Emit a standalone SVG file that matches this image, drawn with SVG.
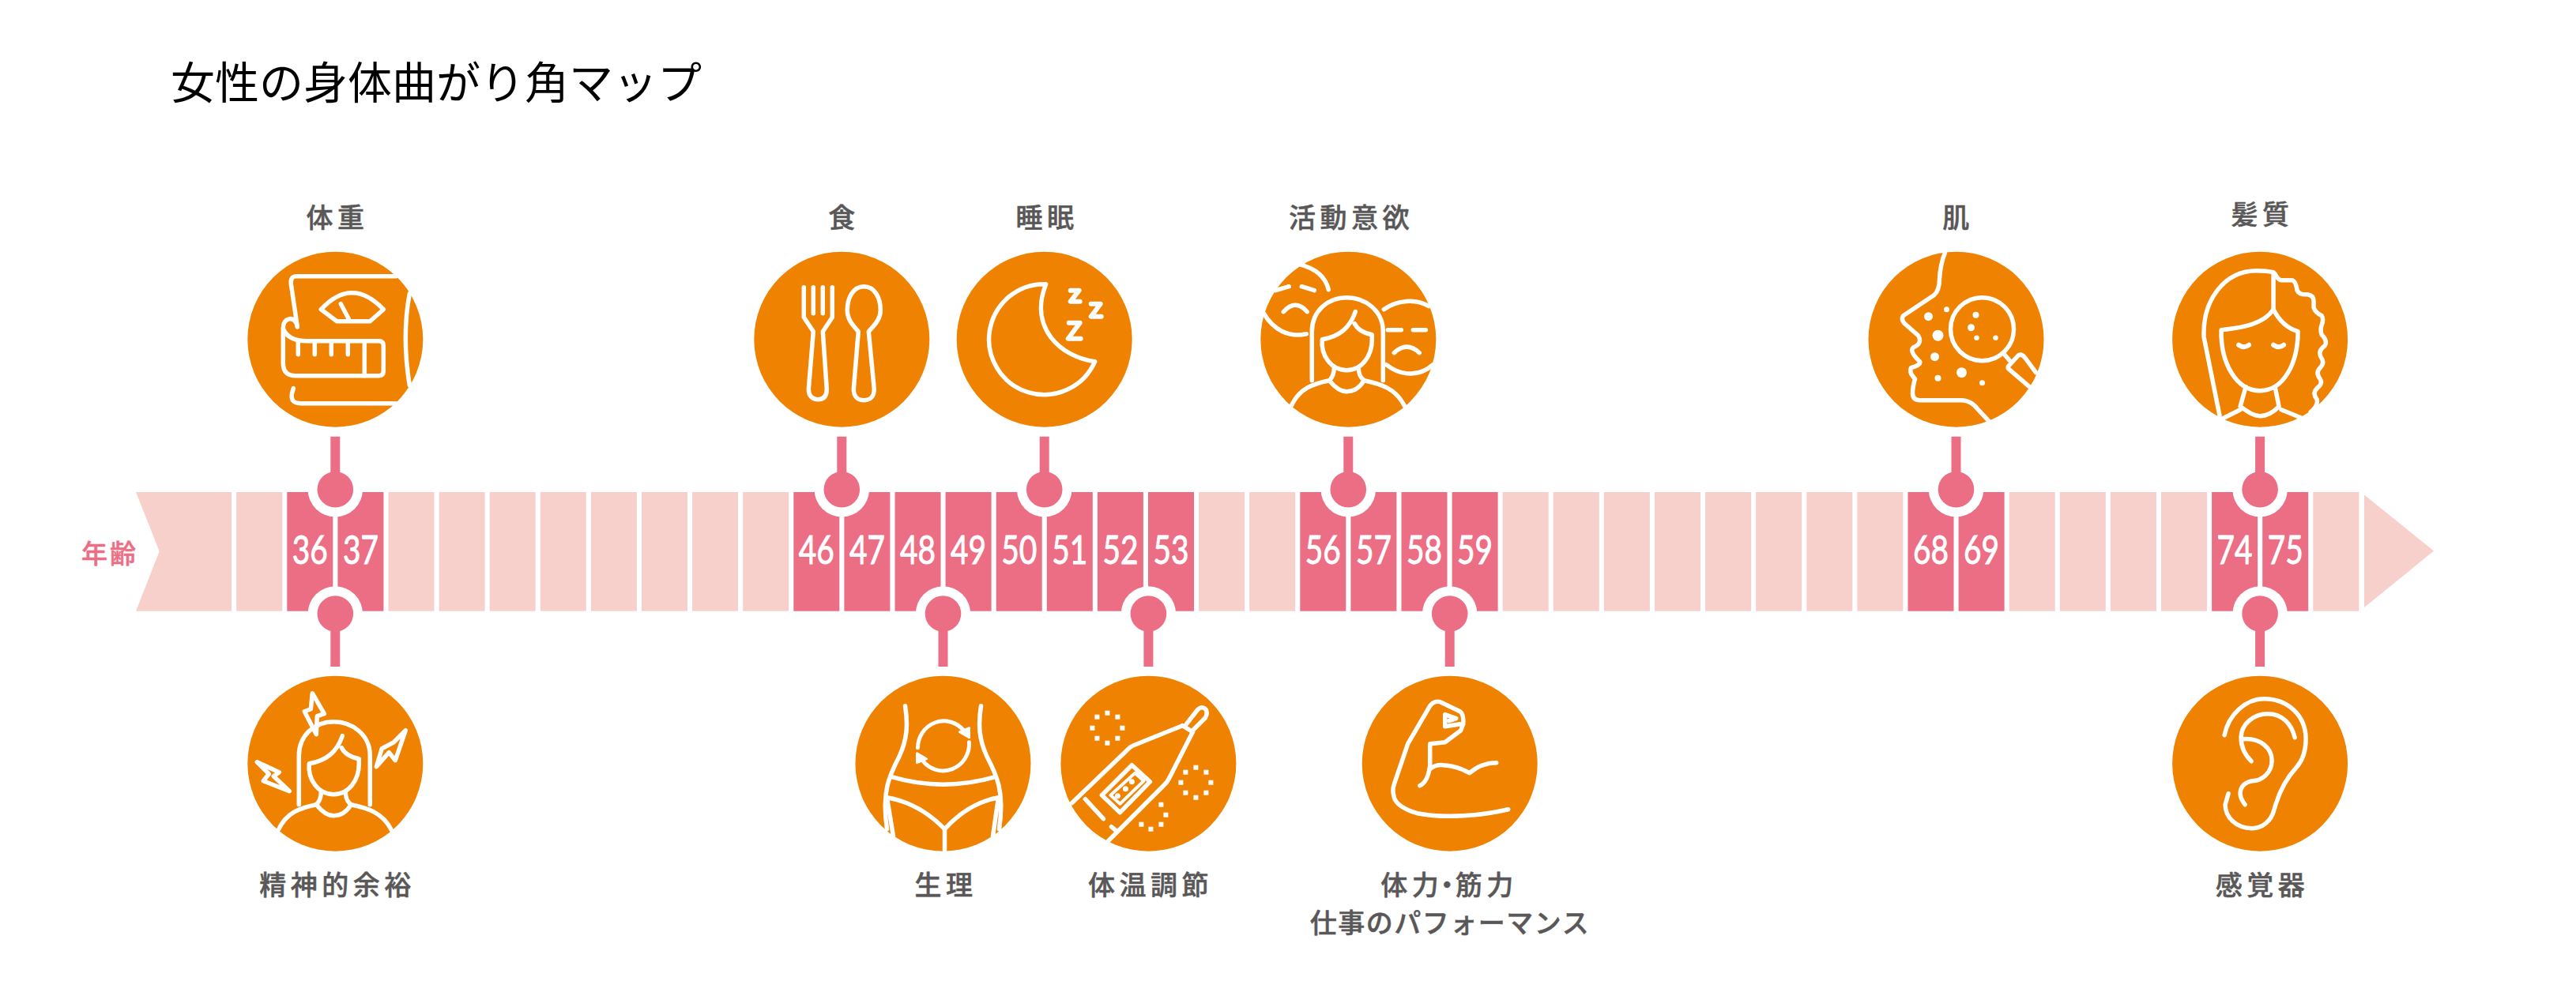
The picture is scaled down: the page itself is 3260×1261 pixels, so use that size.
<svg xmlns="http://www.w3.org/2000/svg" width="3260" height="1261" viewBox="0 0 3260 1261">
<style>
.l{fill:#f7d0cc}.p{fill:#ec6e85}.o{fill:#ef8200}
.i{fill:none;stroke:#fff;stroke-width:5.5;stroke-linecap:round;stroke-linejoin:round}
.w{fill:#fff}
.n{font-family:"Lato","Noto Sans",sans-serif;font-size:50px;fill:#fff;stroke:#fff;stroke-width:1;text-anchor:middle}
.t{font-family:"Noto Sans CJK JP",sans-serif;font-size:34px;font-weight:500;fill:#595757;stroke:#595757;stroke-width:.5;text-anchor:middle;letter-spacing:5.5px}
.s{stroke:#ec6e85;stroke-width:12;fill:none}
</style>
<rect width="3260" height="1261" fill="#fff"/>
<text id="title" x="216" y="125" font-family="'Noto Sans CJK JP',sans-serif" font-size="56" fill="#000">女性の身体曲がり角マップ</text>
<g id="axis">
<text x="139" y="713" font-family="'Noto Sans CJK JP',sans-serif" font-size="33" font-weight="500" fill="#ec6e85" stroke="#ec6e85" stroke-width=".5" text-anchor="middle" letter-spacing="3">年齢</text>
<polygon class="l" points="172,623 293,623 293,773.7 172,773.7 201.7,698"/>
<polygon class="l" points="2992,626.6 3080,697.5 2992,769"/>
<g class="l">
<rect x="299.2" y="623" width="58" height="150.7"/><rect x="491.5" y="623" width="58" height="150.7"/><rect x="555.6" y="623" width="58" height="150.7"/><rect x="619.7" y="623" width="58" height="150.7"/><rect x="683.8" y="623" width="58" height="150.7"/><rect x="747.9" y="623" width="58" height="150.7"/><rect x="812" y="623" width="58" height="150.7"/><rect x="876.1" y="623" width="58" height="150.7"/><rect x="940.2" y="623" width="58" height="150.7"/><rect x="1517.1" y="623" width="58" height="150.7"/><rect x="1581.2" y="623" width="58" height="150.7"/><rect x="1901.7" y="623" width="58" height="150.7"/><rect x="1965.8" y="623" width="58" height="150.7"/><rect x="2029.9" y="623" width="58" height="150.7"/><rect x="2094" y="623" width="58" height="150.7"/><rect x="2158.1" y="623" width="58" height="150.7"/><rect x="2222.2" y="623" width="58" height="150.7"/><rect x="2286.3" y="623" width="58" height="150.7"/><rect x="2350.4" y="623" width="58" height="150.7"/><rect x="2542.7" y="623" width="58" height="150.7"/><rect x="2606.8" y="623" width="58" height="150.7"/><rect x="2670.9" y="623" width="58" height="150.7"/><rect x="2735" y="623" width="58" height="150.7"/><rect x="2927.3" y="623" width="58" height="150.7"/>
</g>
<g class="p">
<rect x="363.3" y="623" width="58" height="150.7"/><rect x="427.4" y="623" width="58" height="150.7"/><rect x="1004.3" y="623" width="58" height="150.7"/><rect x="1068.4" y="623" width="58" height="150.7"/><rect x="1132.5" y="623" width="58" height="150.7"/><rect x="1196.6" y="623" width="58" height="150.7"/><rect x="1260.7" y="623" width="58" height="150.7"/><rect x="1324.8" y="623" width="58" height="150.7"/><rect x="1388.9" y="623" width="58" height="150.7"/><rect x="1453" y="623" width="58" height="150.7"/><rect x="1645.3" y="623" width="58" height="150.7"/><rect x="1709.4" y="623" width="58" height="150.7"/><rect x="1773.5" y="623" width="58" height="150.7"/><rect x="1837.6" y="623" width="58" height="150.7"/><rect x="2414.5" y="623" width="58" height="150.7"/><rect x="2478.6" y="623" width="58" height="150.7"/><rect x="2799.1" y="623" width="58" height="150.7"/><rect x="2863.2" y="623" width="58" height="150.7"/>
</g>
<g>
<text class="n" x="392.3" y="714" textLength="45" lengthAdjust="spacingAndGlyphs">36</text><text class="n" x="456.4" y="714" textLength="45" lengthAdjust="spacingAndGlyphs">37</text>
<text class="n" x="1033.3" y="714" textLength="45" lengthAdjust="spacingAndGlyphs">46</text><text class="n" x="1097.4" y="714" textLength="45" lengthAdjust="spacingAndGlyphs">47</text>
<text class="n" x="1161.5" y="714" textLength="45" lengthAdjust="spacingAndGlyphs">48</text><text class="n" x="1225.6" y="714" textLength="45" lengthAdjust="spacingAndGlyphs">49</text>
<text class="n" x="1289.7" y="714" textLength="45" lengthAdjust="spacingAndGlyphs">50</text><text class="n" x="1353.8" y="714" textLength="45" lengthAdjust="spacingAndGlyphs">51</text>
<text class="n" x="1417.9" y="714" textLength="45" lengthAdjust="spacingAndGlyphs">52</text><text class="n" x="1482" y="714" textLength="45" lengthAdjust="spacingAndGlyphs">53</text>
<text class="n" x="1674.3" y="714" textLength="45" lengthAdjust="spacingAndGlyphs">56</text><text class="n" x="1738.4" y="714" textLength="45" lengthAdjust="spacingAndGlyphs">57</text>
<text class="n" x="1802.5" y="714" textLength="45" lengthAdjust="spacingAndGlyphs">58</text><text class="n" x="1866.6" y="714" textLength="45" lengthAdjust="spacingAndGlyphs">59</text>
<text class="n" x="2443.5" y="714" textLength="45" lengthAdjust="spacingAndGlyphs">68</text><text class="n" x="2507.6" y="714" textLength="45" lengthAdjust="spacingAndGlyphs">69</text>
<text class="n" x="2828.1" y="714" textLength="45" lengthAdjust="spacingAndGlyphs">74</text><text class="n" x="2892.2" y="714" textLength="45" lengthAdjust="spacingAndGlyphs">75</text>
</g>
</g>
<defs>
<g id="c-top"><circle class="w" cx="0" cy="619.7" r="34.7"/><path class="s" d="M0,552.7V620"/><circle class="p" cx="0" cy="619.7" r="22.8"/></g>
<g id="c-bot"><circle class="w" cx="0" cy="777" r="34.7"/><path class="s" d="M0,844V777"/><circle class="p" cx="0" cy="777" r="22.8"/></g>
<g id="person">
<path d="M-46,52V-10C-46,-36 -26,-53 -2,-53C22,-53 44,-36 44,-10V52"/>
<path d="M9,-35C2,-14 -12,-3 -33,0C-35,20 -22,39 -2,39C18,39 30,20 30,0V-6C20,-8 12,-12 8,-20"/>
<path d="M-18,36C-18,44 -20,48 -24,52C-16,62 -8,66 -2,66C6,66 14,62 20,52C15,48 13,44 13,36"/>
<path d="M-72,84C-62,62 -44,56 -24,52M20,52C40,56 60,62 71,84"/>
</g>
</defs>
<g id="connectors">
<use href="#c-top" x="424.3"/><use href="#c-bot" x="424.3"/>
<use href="#c-top" x="1065.3"/><use href="#c-bot" x="1193.5"/>
<use href="#c-top" x="1321.7"/><use href="#c-bot" x="1453.4"/>
<use href="#c-top" x="1706.3"/><use href="#c-bot" x="1834.7"/>
<use href="#c-top" x="2475.5"/>
<use href="#c-top" x="2860.1"/><use href="#c-bot" x="2860.1"/>
</g>

<g id="node-weight">
<text class="t" x="427" y="288">体重</text>
<circle class="o" cx="424.3" cy="429.7" r="111"/>
<g class="i" transform="translate(424.3,429.7)">
<path d="M77,-80H-49Q-57,-80 -56,-70L-48,-16"/>
<path d="M-48,-16Q-50,-27 -58,-26Q-66,-24 -66,-14V30Q-66,46 -50,46H55Q61,46 61,40V8Q61,2 55,2H-36Q-60,2 -66,-14"/>
<path d="M-47,2V19M-26,2V19M-5,2V19M16,2V19M37,2V46"/>
<path d="M-53,62Q-60,81 -44,81H77"/>
<path d="M94,-58Q84,-4 94,58"/>
<path d="M-18,-38Q21,-80 61,-38L44,-23H2Z"/>
<path d="M7,-45L17,-26"/>
</g></g>

<g id="node-mental">
<text class="t" x="427" y="1133">精神的余裕</text>
<circle class="o" cx="424.3" cy="966.7" r="111"/>
<g class="i" transform="translate(424.3,966.7)">
<use href="#person"/>
<path d="M-29,-89L-14,-63L-23,-60L-24,-37L-39,-66L-31,-69Z"/>
<path d="M-99,-2L-71,11L-78,16L-58,35L-91,22L-84,13Z"/>
<path d="M89,-42L76,-4L68,-14L52,4L59,-19L74,-27Z"/>
</g></g>

<g id="node-food">
<text class="t" x="1068" y="288">食</text>
<circle class="o" cx="1065.3" cy="429.7" r="111"/>
<g class="i" transform="translate(1065.3,429.7)">
<path d="M-48,-66V-28L-36,-10L-42,63C-42,72 -37,76 -30,76C-23,76 -19,72 -19,63L-24,-10L-12,-28V-66"/>
<path d="M-36,-66V-33M-24,-66V-33"/>
<path d="M28,-67C14,-67 7,-52 7,-37C7,-25 14,-18 21,-10L15,63C15,72 20,77 28,77C36,77 41,72 41,63L34,-10C41,-18 49,-25 49,-37C49,-52 42,-67 28,-67Z"/>
</g></g>

<g id="node-sleep">
<text class="t" x="1325" y="288">睡眠</text>
<circle class="o" cx="1321.7" cy="429.7" r="111"/>
<g class="i" transform="translate(1321.7,429.7)">
<path d="M2,-70A70,70 0 1 0 64,28C20,22 -20,-15 2,-70Z"/>
<path d="M33,-62H44L33,-48H45M59,-45H71L59,-29H72M31,-21H45L30,-1H46" stroke-width="6"/>
</g></g>

<g id="node-activity">
<text class="t" x="1710" y="288">活動意欲</text>
<circle class="o" cx="1706.3" cy="429.7" r="111"/>
<g class="i" transform="translate(1706.3,429.7)">
<use href="#person"/>
<path d="M-62,-95C-42,-90 -29,-80 -25,-63M-107,-33C-95,-12 -75,-2 -53,-7"/>
<path d="M-92,-62L-75,-67M-59,-67L-43,-62M-82,-35Q-67,-52 -52,-35"/>
<path d="M45,-38C62,-50 85,-52 102,-42M48,32C68,48 92,46 107,32"/>
<path d="M50,-12H67M82,-12H98M58,17Q74,2 90,17"/>
</g></g>

<g id="node-skin">
<text class="t" x="2478" y="288">肌</text>
<circle class="o" cx="2475.5" cy="429.7" r="111"/>
<g class="i" transform="translate(2475.5,429.7)">
<path d="M-14,-110Q-20,-95 -21,-77Q-21,-62 -28,-56L-67,-30Q-70,-25 -65,-20L-48,-5Q-42,5 -54,10Q-60,15 -46,28Q-44,32 -57,36Q-60,42 -52,50Q-55,60 -55,68Q-55,77 -46,77H8Q20,78 27,88L41,103"/>
<circle cx="33" cy="-13" r="40"/>
<path d="M62,20L68,27M68,32L79,20Q83,18 87,23L101,42M66,37Q65,34 68,32M66,37L95,62"/>
<g class="w" stroke="none">
<circle cx="-35" cy="-29" r="5.5"/><circle cx="-12" cy="-38" r="3.5"/><circle cx="-23" cy="-5" r="7"/><circle cx="-27" cy="22" r="5.5"/><circle cx="7" cy="42" r="6.5"/><circle cx="-23" cy="49" r="4"/><circle cx="33" cy="55" r="3.5"/><circle cx="25" cy="-31" r="4"/><circle cx="19" cy="-15" r="4.5"/><circle cx="26" cy="-2" r="3.2"/><circle cx="50" cy="-2" r="3.2"/>
</g>
</g></g>

<g id="node-hair">
<text class="t" x="2863" y="284">髪質</text>
<circle class="o" cx="2860.1" cy="429.7" r="111"/>
<g class="i" transform="translate(2860.1,429.7)">
<path d="M-51,97L-71,-3C-73,-50 -45,-87 -4,-87Q8,-87 17,-85V-38"/>
<path d="M17,-38C5,-20 -20,-15 -49,-12C-50,30 -30,65 0,65C30,65 48,30 48,-10C32,-15 22,-28 17,-38Z"/>
<path d="M-18,60L-25,85C-15,92 -8,97 0,97C8,97 17,92 24,85L19,60"/>
<path d="M-47,100L-25,89M27,89L54,100"/>
<path d="M19,-83Q23,-75 27,-75H40Q45,-75 47,-62Q50,-56 60,-57Q68,-56 68,-48V-40Q70,-34 78,-30Q81,-26 78,-18Q76,-12 78,-6Q86,2 82,8Q72,15 78,24Q82,30 76,36Q70,42 76,50Q80,56 72,62Q66,68 72,76Q74,84 64,92"/>
<path d="M-27,7Q-20,12 -14,7M17,7Q24,12 30,7" stroke-width="6"/>
</g></g>

<g id="node-period">
<text class="t" x="1197" y="1133">生理</text>
<circle class="o" cx="1193.5" cy="966.7" r="111"/>
<g class="i" transform="translate(1193.5,966.7)">
<path d="M-48,-73C-44,-48 -46,-30 -55,-10C-68,15 -78,35 -71,83"/>
<path d="M48,-73C44,-48 46,-30 55,-10C68,15 78,35 71,83"/>
<path d="M-65,17Q0,36 66,17"/>
<path d="M-71,43L-63,92M70,43L63,92"/>
<path d="M-71,43Q-30,50 2,83Q32,50 70,43"/>
<path d="M2,83V110"/>
<path d="M-32,-20A33,34 0 0 1 26,-42M33,-27A33,34 0 0 1 -26,-4" stroke-width="5"/>
<path class="w" d="M21,-40L33,-45L33,-33ZM-21,-6L-33,-1L-33,-13Z" stroke-width="3"/>
</g></g>

<g id="node-temperature">
<text class="t" x="1456" y="1133">体温調節</text>
<circle class="o" cx="1453.4" cy="966.7" r="111"/>
<g class="i" transform="translate(1453.4,966.7)">
<path d="M43,-48L-19,-23Q-24,-21 -27,-17L-97,50"/>
<path d="M56,-40L27,17Q24,24 19,28L-51,98"/>
<path d="M43,-48L56,-40M48,-50L62,-68Q68,-74 73,-68Q75,-63 72,-58L56,-42"/>
<path d="M-21,2L2,23L-36,62L-59,40Z"/>
<path d="M-17,12L-6,22L-36,51L-48,40Z" stroke-width="4"/>
<path d="M-80,45L-57,70M-47,80L-41,85"/>
<g class="w" stroke="none">
<circle cx="-21" cy="23" r="3.5"/><circle cx="-29" cy="32" r="3.5"/><circle cx="-39" cy="41" r="3.5"/>
<rect x="-55" y="-67" width="6" height="6"/><rect x="-42" y="-62" width="6" height="6"/><rect x="-36" y="-48" width="6" height="6"/><rect x="-42" y="-35" width="6" height="6"/><rect x="-55" y="-29" width="6" height="6"/><rect x="-68" y="-35" width="6" height="6"/><rect x="-74" y="-48" width="6" height="6"/><rect x="-68" y="-62" width="6" height="6"/>
<rect x="57" y="2" width="6" height="6"/><rect x="70" y="8" width="6" height="6"/><rect x="76" y="21" width="6" height="6"/><rect x="70" y="34" width="6" height="6"/><rect x="57" y="40" width="6" height="6"/><rect x="44" y="34" width="6" height="6"/><rect x="38" y="21" width="6" height="6"/><rect x="44" y="8" width="6" height="6"/>
<rect x="13" y="49" width="6" height="6"/><rect x="19" y="62" width="6" height="6"/><rect x="13" y="74" width="6" height="6"/><rect x="0" y="80" width="6" height="6"/><rect x="-12" y="74" width="6" height="6"/>
</g>
</g></g>

<g id="node-strength">
<text class="t" x="1834" y="1133">体力<tspan dx="-12">・</tspan><tspan dx="-12">筋力</tspan></text>
<text class="t" x="1835" y="1181" style="letter-spacing:1.5px">仕事のパフォーマンス</text>
<circle class="o" cx="1834.7" cy="966.7" r="111"/>
<g class="i" transform="translate(1834.7,966.7)">
<path d="M74,58C40,66 -5,70 -41,63C-58,58 -70,50 -71,40Q-73,33 -70,25L-53,-25L-25,-73Q-20,-80 -12,-78L13,-66Q18,-62 17,-50Q15,-45 14,-42L-6,-27L-25,-25V3Q-28,24 -38,28"/>
<path d="M-25,7Q-18,1 -8,2Q10,3 25,12Q40,-1 59,-1"/>
<path d="M-6,-62V-47L13,-50M-6,-62L8,-57L-1,-54"/>
</g></g>

<g id="node-senses">
<text class="t" x="2863" y="1133">感覚器</text>
<circle class="o" cx="2860.1" cy="966.7" r="111"/>
<g class="i" transform="translate(2860.1,966.7)">
<path d="M-45,-36C-40,-62 -18,-82 5,-82C36,-82 58,-60 58,-31C58,-15 54,-4 46,5C34,18 24,36 18,58C14,74 2,82 -10,82C-30,82 -44,68 -44,52L-40,38"/>
<path d="M44,-33C40,-50 28,-63 10,-63C-8,-63 -24,-50 -24,-33C-24,-20 -18,-10 -11,-3"/>
<path d="M-22,-31C0,-33 15,-20 15,-4C15,12 2,22 -10,22C-20,24 -25,30 -25,38C-25,44 -22,48 -19,52"/>
</g></g>
</svg>
